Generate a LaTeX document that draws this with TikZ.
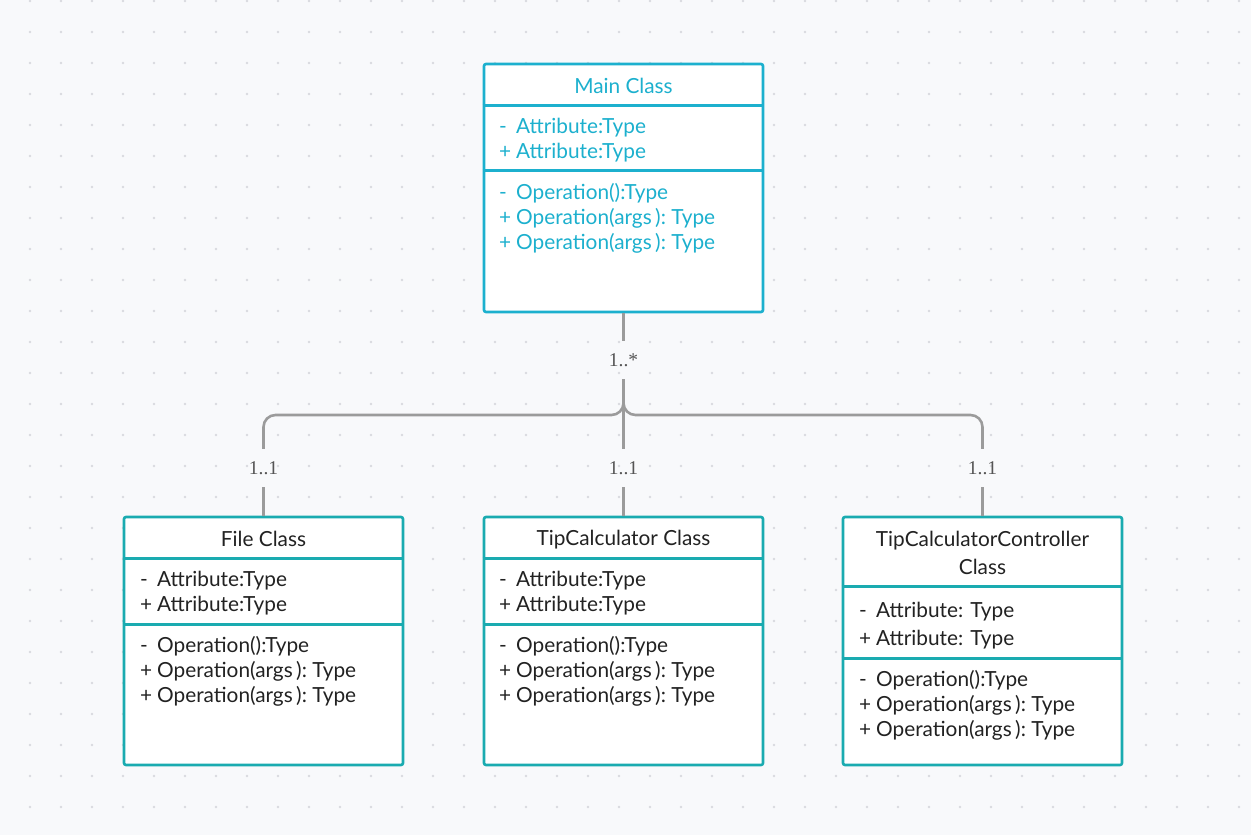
\documentclass[tikz,border=0pt]{standalone}
\usepackage{fontspec}
\setmainfont{Lato}
\newfontfamily\multfont{Liberation Serif}
\usepackage{xcolor}
\usetikzlibrary{calc}

\definecolor{canvas}{HTML}{F8F9FB}
\definecolor{griddot}{HTML}{D9DADF}
\definecolor{mainline}{HTML}{1CB0CE}
\definecolor{classline}{HTML}{1AABB0}
\definecolor{assocgray}{HTML}{9B9B9B}
\definecolor{multgray}{HTML}{555555}
\definecolor{membertext}{HTML}{222222}
\newcommand{\mbr}[2]{\makebox[17pt][l]{#1}#2}

\begin{document}
\begin{tikzpicture}[x=1pt,y=-1pt,
  classbox/.style={draw=classline,line width=2.6pt,fill=white,rounded corners=2pt,minimum width=279pt,minimum height=248pt,inner sep=0pt},
  mainbox/.style={classbox,draw=mainline},
  classname/.style={font=\fontsize{20.8}{28}\selectfont,align=center,text=membertext},
  members/.style={font=\fontsize{20.8}{25}\selectfont,align=left,anchor=west,inner sep=0pt,text=membertext},
  divider/.style={line width=2.6pt,draw=classline},
  assoc/.style={draw=assocgray,line width=2.6pt,rounded corners=12pt},
  mult/.style={font=\multfont\fontsize{19.5}{19.5}\selectfont,text=multgray,minimum height=38pt,inner sep=0pt}]
\useasboundingbox (0,0) rectangle (1251,835);
\fill[canvas] (0,0) rectangle (1251,835);
\foreach \x in {30,61,...,1251}
  \foreach \y in {1,32,...,835}
    \fill[griddot] (\x,\y) circle (1.4pt);

\node[mainbox] (main) at (623.5,188) {};
\node[classbox] (file) at (263.5,641) {};
\node[classbox] (tip) at (623.5,641) {};
\node[classbox] (ctrl) at (982.5,641) {};

\draw[divider,draw=mainline] ($(main.north west)+(0,43)$) -- ($(main.north east)+(0,43)$);
\draw[divider,draw=mainline] ($(main.north west)+(0,108)$) -- ($(main.north east)+(0,108)$);
\foreach \c in {file,tip}{
  \draw[divider] ($(\c.north west)+(0,43)$) -- ($(\c.north east)+(0,43)$);
  \draw[divider] ($(\c.north west)+(0,109)$) -- ($(\c.north east)+(0,109)$);
}
\draw[divider] ($(ctrl.north west)+(0,71)$) -- ($(ctrl.north east)+(0,71)$);
\draw[divider] ($(ctrl.north west)+(0,143)$) -- ($(ctrl.north east)+(0,143)$);

\node[classname,text=mainline] (mainname) at (623.5,86) {Main Class};
\node[members,text=mainline] (mainattr) at (499,140.5) {\mbr{-}{Attribute:Type}\\\mbr{+}{Attribute:Type}};
\node[members,text=mainline] (mainop) at (499,218) {\mbr{-}{Operation():Type}\\\mbr{+}{Operation(args\,):\ Type}\\\mbr{+}{Operation(args\,):\ Type}};

\node[classname] (filename) at (263.5,539) {File Class};
\node[members] (fileattr) at (140,593.5) {\mbr{-}{Attribute:Type}\\\mbr{+}{Attribute:Type}};
\node[members] (fileop) at (140,671) {\mbr{-}{Operation():Type}\\\mbr{+}{Operation(args\,):\ Type}\\\mbr{+}{Operation(args\,):\ Type}};

\node[classname] (tipname) at (623.5,540) {TipCalculator Class};
\node[members] (tipattr) at (499,593.5) {\mbr{-}{Attribute:Type}\\\mbr{+}{Attribute:Type}};
\node[members] (tipop) at (499,671) {\mbr{-}{Operation():Type}\\\mbr{+}{Operation(args\,):\ Type}\\\mbr{+}{Operation(args\,):\ Type}};

\node[classname] (ctrlname) at (982.5,553) {TipCalculatorController\\Class};
\node[members,font=\fontsize{20.8}{28}\selectfont] (ctrlattr) at (859,626) {\mbr{-}{Attribute: Type}\\\mbr{+}{Attribute: Type}};
\node[members] (ctrlop) at (859,705) {\mbr{-}{Operation():Type}\\\mbr{+}{Operation(args\,):\ Type}\\\mbr{+}{Operation(args\,):\ Type}};

\node[mult] (lmany) at (623.5,360) {1..*};
\node[mult] (lfile) at (263.5,468) {1..1};
\node[mult] (ltip) at (623.5,468) {1..1};
\node[mult] (lctrl) at (982.5,468) {1..1};
\coordinate (fork) at (623.5,415);

\draw[assoc] (main) -- (lmany);
\draw[assoc] (lmany) -- (fork) -| (lfile);
\draw[assoc] (lmany) -- (fork) -| (lctrl);
\draw[assoc] (lmany) -- (ltip);
\draw[assoc] (lfile) -- (file);
\draw[assoc] (ltip) -- (tip);
\draw[assoc] (lctrl) -- (ctrl);
\end{tikzpicture}
\end{document}
